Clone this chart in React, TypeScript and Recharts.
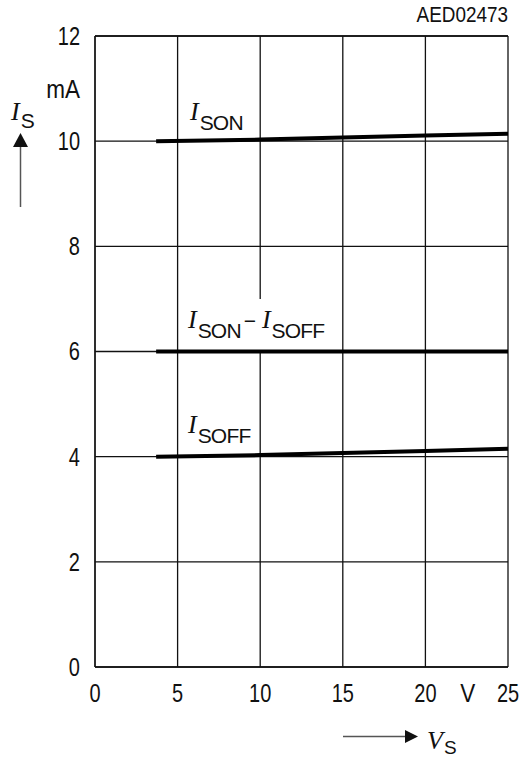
import {
  LineChart,
  Line,
  XAxis,
  YAxis,
  CartesianGrid,
  ReferenceLine,
  ReferenceDot,
} from "recharts";

// supply voltage V_S (V) and the supply currents (mA)
const vs = [3.7, 10, 15, 20, 25];
const iSon = [10.0, 10.03, 10.07, 10.11, 10.14];
const iDiff = [6.0, 6.0, 6.0, 6.0, 6.0];
const iSoff = [4.0, 4.03, 4.07, 4.11, 4.15];

const xTicks = [0, 5, 10, 15, 20, 25];
const yTicks = [0, 2, 4, 6, 8, 10, 12];
const xGrid = [0, 5, 15, 20, 25];

const SANS = '"Liberation Sans", Arial, sans-serif';
const SERIF = '"Liberation Serif", "Times New Roman", serif';
const INK = "#111";
const SQUEEZE = 0.8; // the original lettering is a condensed grotesque

const data = vs.map((v, i) => ({
  vs: v,
  on: iSon[i],
  diff: iDiff[i],
  off: iSoff[i],
}));

// condensed sans text drawn at (x, y)
function Narrow({ x, y, anchor, size, dy, children, squeeze = SQUEEZE }: any) {
  return (
    <text
      transform={`translate(${x},${y}) scale(${squeeze},1)`}
      textAnchor={anchor}
      dy={dy}
      fontFamily={SANS}
      fontSize={size}
      fill={INK}
    >
      {children}
    </text>
  );
}

function xTick(props: any) {
  return (
    <Narrow x={props.x} y={props.y} anchor="middle" size={25} dy="0.71em">
      {props.payload.value}
    </Narrow>
  );
}

function yTick(props: any) {
  return (
    <Narrow x={props.x} y={props.y} anchor="end" size={25} dy="0.355em">
      {props.payload.value}
    </Narrow>
  );
}

// italic "I" with a sans subscript, drawn from the anchor point of a ReferenceDot
function curveLabel(parts: string[]) {
  return (props: any) => {
    const { x, y } = props.viewBox;
    return (
      <text x={x} y={y} fill={INK}>
        {parts.map((p, i) => {
          if (p === "I")
            return (
              <tspan key={i} fontFamily={SERIF} fontStyle="italic" fontSize={26}>
                I
              </tspan>
            );
          if (p === "-")
            return (
              <tspan key={i} fontFamily={SANS} fontSize={21} dy={-10} dx={3}>
                {"\u2212 "}
              </tspan>
            );
          return (
            <tspan key={i} fontFamily={SANS} fontSize={21} dy={10} dx={1} letterSpacing={-0.8}>
              {p}
            </tspan>
          );
        })}
      </text>
    );
  };
}

function textLabel(value: string, dx: number, dy: number, anchor: string) {
  return (props: any) => {
    const { x, y } = props.viewBox;
    return (
      <Narrow x={x + dx} y={y + dy} anchor={anchor} size={25} squeeze={0.9}>
        {value}
      </Narrow>
    );
  };
}

export default function App() {
  return (
    <div style={{ position: "absolute", left: 0, top: 0, width: 521, height: 758, background: "#fff" }}>
      <LineChart
        width={521}
        height={758}
        data={data}
        margin={{ top: 36, right: 13, left: 35, bottom: 51 }}
      >
        <CartesianGrid vertical={false} stroke={INK} strokeWidth={1.3} />
        <XAxis
          dataKey="vs"
          type="number"
          domain={[0, 25]}
          ticks={xTicks}
          height={40}
          tickSize={0}
          tickMargin={17}
          axisLine={{ stroke: INK, strokeWidth: 1.3 }}
          tick={xTick}
        />
        <YAxis
          type="number"
          domain={[0, 12]}
          ticks={yTicks}
          width={60}
          tickSize={0}
          tickMargin={15}
          axisLine={{ stroke: INK, strokeWidth: 1.3 }}
          tick={yTick}
        />
        {xGrid.map((x) => (
          <ReferenceLine key={x} x={x} stroke={INK} strokeWidth={1.3} />
        ))}
        <ReferenceLine
          segment={[{ x: 10, y: 0 }, { x: 10, y: 6 }]}
          stroke={INK}
          strokeWidth={1.3}
        />
        <ReferenceLine
          segment={[{ x: 10, y: 7.0 }, { x: 10, y: 12 }]}
          stroke={INK}
          strokeWidth={1.3}
        />
        <ReferenceLine y={12} stroke={INK} strokeWidth={1.3} />

        <Line type="linear" dataKey="on" stroke="#000" strokeWidth={4} dot={false} isAnimationActive={false} />
        <Line type="linear" dataKey="diff" stroke="#000" strokeWidth={4} dot={false} isAnimationActive={false} />
        <Line type="linear" dataKey="off" stroke="#000" strokeWidth={4} dot={false} isAnimationActive={false} />

        <ReferenceDot x={5.75} y={10.4} r={0.01} fill="none" stroke="none" label={{ content: curveLabel(["I", "SON"]) }} />
        <ReferenceDot x={5.63} y={6.45} r={0.01} fill="none" stroke="none" label={{ content: curveLabel(["I", "SON", "-", "I", "SOFF"]) }} />
        <ReferenceDot x={5.63} y={4.45} r={0.01} fill="none" stroke="none" label={{ content: curveLabel(["I", "SOFF"]) }} />
        <ReferenceDot x={0} y={11} r={0.01} fill="none" stroke="none" label={{ content: textLabel("mA", -15, 9, "end") }} />
        <ReferenceDot x={22.5} y={0} r={0.01} fill="none" stroke="none" label={{ content: textLabel("V", 1, 35, "middle") }} />
      </LineChart>

      <svg width={521} height={758} style={{ position: "absolute", left: 0, top: 0, pointerEvents: "none" }}>
        <Narrow x={508} y={22} anchor="end" size={22} squeeze={0.86}>
          AED02473
        </Narrow>
        {/* y axis title with arrow */}
        <text x={11} y={120} fill={INK}>
          <tspan fontFamily={SERIF} fontStyle="italic" fontSize={26}>I</tspan>
          <tspan fontFamily={SANS} fontSize={21} dy={8} dx={1}>S</tspan>
        </text>
        <polygon points="13,147 28,147 20.5,133" fill={INK} />
        <line x1={20.5} y1={147} x2={20.5} y2={207} stroke="#555" strokeWidth={1.5} />
        {/* x axis title with arrow */}
        <line x1={343} y1={736.5} x2={406} y2={736.5} stroke="#555" strokeWidth={1.5} />
        <polygon points="405,730 405,743 418,736.5" fill={INK} />
        <text x={427} y={749} fill={INK}>
          <tspan fontFamily={SERIF} fontStyle="italic" fontSize={26}>V</tspan>
          <tspan fontFamily={SANS} fontSize={19} dy={5} dx={1}>S</tspan>
        </text>
      </svg>
    </div>
  );
}
